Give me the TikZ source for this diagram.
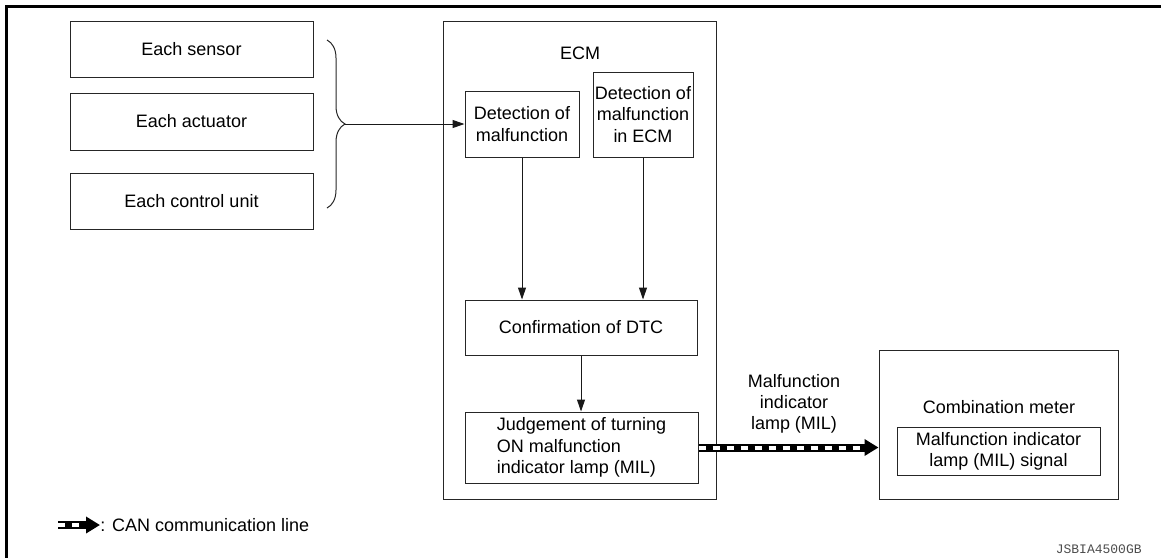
\documentclass[tikz,border=0pt]{standalone}
\usepackage{fontspec}
\setmainfont{Liberation Sans}
\newfontfamily\codefont{Liberation Mono}
\usepackage{tikz}
\usetikzlibrary{arrows.meta,decorations.pathreplacing}

\begin{document}
\begin{tikzpicture}[x=0.5pt, y=-0.5pt,
    box/.style={draw=black!85, line width=0.5pt, inner sep=0pt, align=center,
        font=\fontsize{9}{10.6}\selectfont},
    txt/.style={inner sep=0pt, align=center, font=\fontsize{9}{10.6}\selectfont},
    arr/.style={draw=black!90, line width=0.5pt, -{Triangle[length=6pt,width=4pt]}},
    canline/.style={draw=black, line width=4pt, -{Triangle[length=7pt,width=8pt]},
        postaction={draw=white, line width=2pt, dash pattern=on 3.5pt off 3.5pt,
            shorten >=9pt, -}}]
    \useasboundingbox (0,0) rectangle (1161,558);

    \draw[line width=1.5pt] (5,6.5) -- (1161,6.5);
    \draw[line width=1.5pt] (6.5,5) -- (6.5,558);

    \node[box, minimum width=121.5pt, minimum height=28pt] (sensor) at (191.5,49) {Each sensor};
    \node[box, minimum width=121.5pt, minimum height=28.5pt] (actuator) at (191.5,121.5) {Each actuator};
    \node[box, minimum width=121.5pt, minimum height=28pt] (unit) at (191.5,201) {Each control unit};

    \draw[black!85, line width=0.5pt, decorate, decoration={brace, amplitude=9pt}]
        (327,40) -- (327,208);
    \coordinate (bracetip) at (345,124);

    \node[box, minimum width=136.5pt, minimum height=239pt] (ecm) at (579.5,260) {};
    \node[txt] (ecmlabel) at (580,53) {ECM};

    \node[box, minimum width=57pt, minimum height=33pt] (detect) at (522,124) {Detection of\\malfunction};
    \node[box, minimum width=50pt, minimum height=42.5pt] (detectecm) at (643,114.5) {Detection of\\malfunction\\in ECM};
    \node[box, minimum width=116pt, minimum height=27.5pt] (confirm) at (581,327.5) {Confirmation of DTC};
    \node[box, minimum width=116.5pt, minimum height=35.5pt, align=left] (judge) at (581.5,447.5)
        {Judgement of turning\\ON malfunction\\indicator lamp (MIL)};

    \node[box, minimum width=119.5pt, minimum height=74.5pt] (meter) at (998.5,424.5) {};
    \node[txt] (meterlabel) at (999,407) {Combination meter};
    \node[box, minimum width=101.5pt, minimum height=24pt] (milsignal) at (998.5,451)
        {Malfunction indicator\\lamp (MIL) signal};

    \draw[arr] (bracetip) -- (detect.west);
    \draw[arr] (detect.south) -- (detect.south |- confirm.north);
    \draw[arr] (detectecm.south) -- (detectecm.south |- confirm.north);
    \draw[arr] (confirm.south) -- (confirm.south |- judge.north);

    \draw[canline] (judge.east) -- (judge.east -| meter.west);
    \node[txt] (canlabel) at (794,404) {Malfunction\\indicator\\lamp (MIL)};

    \coordinate (legstart) at (58,525);
    \coordinate (legend) at (100,525);
    \draw[canline] (legstart) -- (legend);
    \node[txt, anchor=west] (legtext) at (legend) {: CAN communication line};

    \node[inner sep=0pt, anchor=east, text=black!70, font=\codefont\fontsize{6.5}{7}\selectfont]
        (figid) at (1142,549) {JSBIA4500GB};
\end{tikzpicture}
\end{document}
